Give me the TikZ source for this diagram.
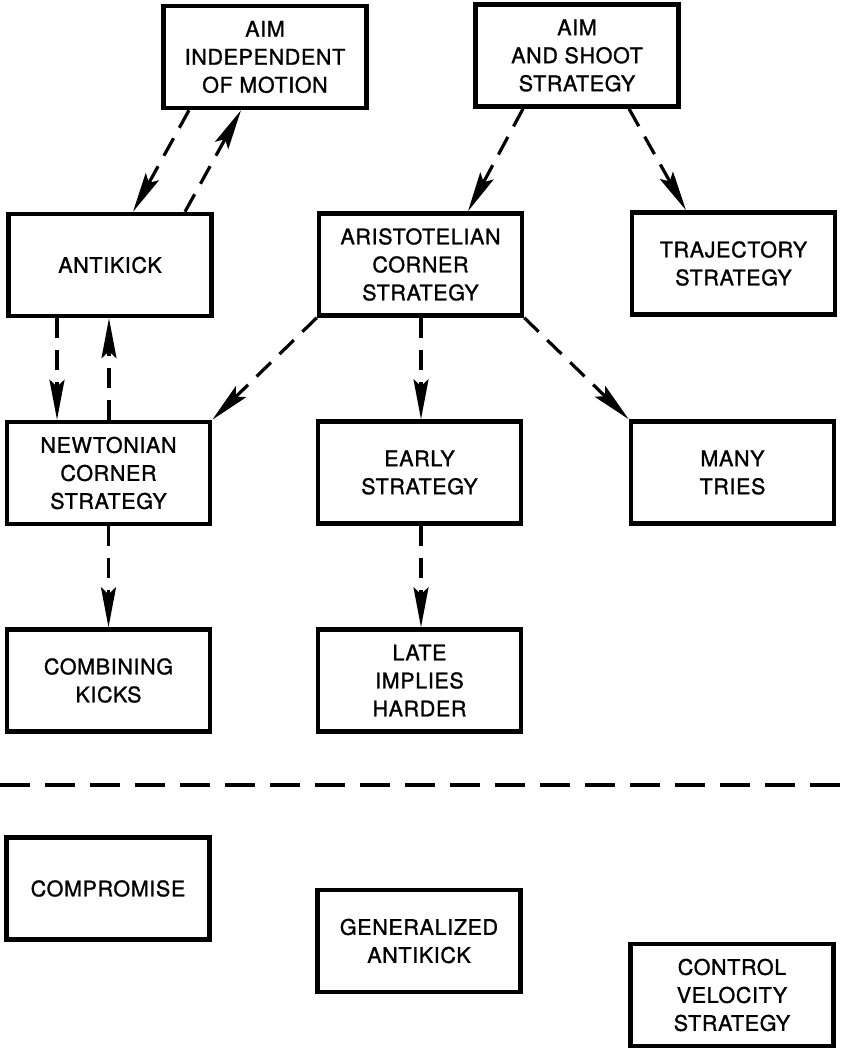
\documentclass[tikz,border=0pt]{standalone}
\usepackage{fontspec}
\newfontfamily\boxfont{TeX Gyre Heros}[FakeBold=1.2, LetterSpace=3]
\usetikzlibrary{arrows.meta}
\tikzset{
  box/.style={draw, line width=4.5pt, minimum width=203pt, minimum height=102pt,
    align=center, inner sep=2pt, font=\boxfont\fontsize{21.5}{28}\selectfont},
  link/.style={line width=3.2pt, dash pattern=on 20pt off 12pt,
    -{Stealth[length=40pt,width=15pt,inset=7pt]}},
  divider/.style={line width=3.2pt, dash pattern=on 30pt off 15pt}
}
\begin{document}
\begin{tikzpicture}[x=1pt,y=-1pt]
\useasboundingbox (0,0) rectangle (842,1050);
\node[box] (aimind) at (265,57) {AIM\\INDEPENDENT\\OF MOTION};
\node[box] (ashoot) at (577,55.5) {AIM\\AND SHOOT\\STRATEGY};
\node[box] (antikick) at (110,265) {ANTIKICK};
\node[box] (arist) at (420.5,264.5) {ARISTOTELIAN\\CORNER\\STRATEGY};
\node[box] (traj) at (733.5,263.5) {TRAJECTORY\\STRATEGY};
\node[box] (newton) at (108.5,473) {NEWTONIAN\\CORNER\\STRATEGY};
\node[box] (early) at (419.5,472.5) {EARLY\\STRATEGY};
\node[box] (many) at (732.5,472.5) {MANY\\TRIES};
\node[box] (comb) at (108.5,680.5) {COMBINING\\KICKS};
\node[box] (late) at (419.5,680.5) {LATE\\IMPLIES\\HARDER};
\node[box] (comp) at (108,888.5) {COMPROMISE};
\node[box] (gen) at (419,941) {GENERALIZED\\ANTIKICK};
\node[box] (ctrl) at (732,995) {CONTROL\\VELOCITY\\STRATEGY};

\draw[link] ([xshift=-76pt]aimind.south) -- ([xshift=23pt]antikick.north);
\draw[link] ([xshift=75pt]antikick.north) -- ([xshift=-24pt]aimind.south);
\draw[link] ([xshift=-53pt]antikick.south) -- ([xshift=-51.5pt]newton.north);
\draw[link] ([xshift=0.5pt]newton.north) -- ([xshift=-1pt]antikick.south);
\draw[link] ([xshift=-54pt]ashoot.south) -- ([xshift=47.5pt]arist.north);
\draw[link] ([xshift=52pt]ashoot.south) -- ([xshift=-47.5pt]traj.north);
\draw[link] (arist.south west) -- (newton.north east);
\draw[link] ([xshift=0.5pt]arist.south) -- ([xshift=1.5pt]early.north);
\draw[link] (arist.south east) -- (many.north west);
\draw[link] (newton.south) -- (comb.north);
\draw[link] ([xshift=1.5pt]early.south) -- ([xshift=1.5pt]late.north);

\coordinate (divl) at (0,785);
\coordinate (divr) at (842,785);
\draw[divider] (divl) -- (divr);
\end{tikzpicture}
\end{document}
